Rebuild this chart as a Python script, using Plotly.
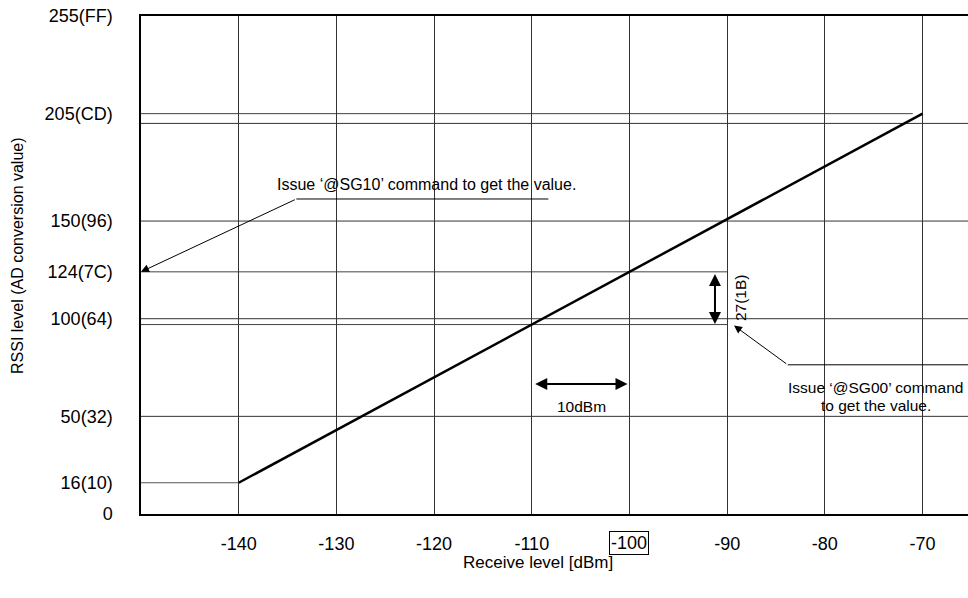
import plotly.graph_objects as go

# ---- data ----
x_flat = [-150, -140]
y_flat = [16, 16]
x_slope = [-140, -70]
y_slope = [16, 205]

xtick_vals = [-140, -130, -120, -110, -100, -90, -80, -70]
xtick_text = ["-140", "-130", "-120", "-110", "", "-90", "-80", "-70"]
boxed_tick = -100

ytick_vals = [0, 16, 50, 100, 124, 150, 205, 255]
ytick_text = ["0", "16(10)", "50(32)", "100(64)", "124(7C)", "150(96)", "205(CD)", "255(FF)"]

grid_levels = [50, 100, 150, 200]
ref_levels = [205, 124, 97]
ref_ends = [-71, -90, -90]

x_min, x_max = -150, -65.35
y_min, y_max = 0, 255

FONT = "Liberation Sans, Arial, sans-serif"

fig = go.Figure()

fig.add_trace(go.Scatter(x=x_flat, y=y_flat, mode="lines",
                         line=dict(color="#555555", width=1), hoverinfo="skip"))
fig.add_trace(go.Scatter(x=x_slope, y=y_slope, mode="lines",
                         line=dict(color="black", width=2.5), hoverinfo="skip"))

shapes = []
for lv in grid_levels:
    shapes.append(dict(type="line", xref="paper", x0=0, x1=1, yref="y", y0=lv, y1=lv,
                       line=dict(color="#333333", width=1), layer="below"))
for lv, xe in zip(ref_levels, ref_ends):
    shapes.append(dict(type="line", xref="x", x0=x_min, x1=xe, yref="y", y0=lv, y1=lv,
                       line=dict(color="#444444", width=1), layer="below"))
# leader lines for callouts
shapes.append(dict(type="line", xref="x", x0=-134.1, x1=-108.3, yref="y", y0=161.3, y1=161.3,
                   line=dict(color="black", width=1)))
shapes.append(dict(type="line", xref="x", x0=-83.8, x1=x_max, yref="y", y0=76.4, y1=76.4,
                   line=dict(color="black", width=1)))

annotations = [
    # callout 1
    dict(x=-120.8, y=168.5, xref="x", yref="y", showarrow=False,
         text="Issue \u2018@SG10\u2019 command to get the value.",
         font=dict(size=16, color="black", family=FONT)),
    dict(x=x_min, y=124, xref="x", yref="y", ax=-134.1, ay=161.3, axref="x", ayref="y",
         text="", showarrow=True, arrowhead=2, arrowsize=1.6, arrowwidth=1, arrowcolor="black"),
    # callout 2
    dict(x=-74.8, y=64.8, xref="x", yref="y", showarrow=False,
         text="Issue \u2018@SG00\u2019 command",
         font=dict(size=15.5, color="black", family=FONT)),
    dict(x=-74.8, y=55.6, xref="x", yref="y", showarrow=False,
         text="to get the value.",
         font=dict(size=15.5, color="black", family=FONT)),
    dict(x=-89.3, y=96.5, xref="x", yref="y", ax=-83.8, ay=76.4, axref="x", ayref="y",
         text="", showarrow=True, arrowhead=2, arrowsize=1.6, arrowwidth=1, arrowcolor="black"),
    # 27 (1B) double arrow
    dict(x=-91.25, y=97.3, xref="x", yref="y", ax=-91.25, ay=123.7, axref="x", ayref="y",
         text="", showarrow=True, arrowhead=2, startarrowhead=2, arrowside="end+start",
         arrowsize=1.2, startarrowsize=1.2, arrowwidth=2, arrowcolor="black"),
    dict(x=-88.7, y=111, xref="x", yref="y", showarrow=False, textangle=-90,
         text="27(1B)", font=dict(size=15.5, color="black", family=FONT)),
    # 10 dBm double arrow
    dict(x=-100.2, y=66.6, xref="x", yref="y", ax=-109.8, ay=66.6, axref="x", ayref="y",
         text="", showarrow=True, arrowhead=2, startarrowhead=2, arrowside="end+start",
         arrowsize=1.2, startarrowsize=1.2, arrowwidth=2, arrowcolor="black"),
    dict(x=-104.9, y=54.8, xref="x", yref="y", showarrow=False,
         text="10dBm", font=dict(size=15.5, color="black", family=FONT)),
    # boxed tick label
    dict(x=boxed_tick, y=-0.058, xref="x", yref="paper", showarrow=False, yanchor="middle",
         text=str(boxed_tick), bordercolor="black", borderwidth=1, borderpad=1,
         font=dict(size=18, color="black", family=FONT)),
    # axis titles
    dict(x=0.48, y=-0.0964, xref="paper", yref="paper", showarrow=False, yanchor="middle",
         text="Receive level [dBm]", font=dict(size=17, color="black", family=FONT)),
    dict(x=-0.15, y=0.52, xref="paper", yref="paper", showarrow=False, textangle=-90,
         xanchor="center", yanchor="middle",
         text="RSSI level (AD conversion value)", font=dict(size=16, color="black", family=FONT)),
]

fig.update_layout(
    width=968, height=598,
    margin=dict(l=141, r=0, t=16, b=84),
    paper_bgcolor="white", plot_bgcolor="white",
    showlegend=False,
    font=dict(family=FONT, size=18, color="black"),
    shapes=shapes, annotations=annotations,
    xaxis=dict(range=[x_min, x_max], tickvals=xtick_vals, ticktext=xtick_text,
               showgrid=True, gridcolor="#333333", gridwidth=1, zeroline=False,
               showline=True, linecolor="black", linewidth=1.5, mirror=True,
               ticks="outside", ticklen=13, tickcolor="rgba(0,0,0,0)",
               tickfont=dict(size=18, family=FONT, color="black")),
    yaxis=dict(range=[y_min, y_max], tickvals=ytick_vals, ticktext=ytick_text,
               showgrid=False, zeroline=False,
               showline=True, linecolor="black", linewidth=1.5,
               ticks="outside", ticklen=23, tickcolor="rgba(0,0,0,0)",
               tickfont=dict(size=18, family=FONT, color="black")),
)

fig.write_html("out.html", config={"displayModeBar": False},
               post_script="document.body.style.margin='0';document.body.style.overflow='hidden';")
